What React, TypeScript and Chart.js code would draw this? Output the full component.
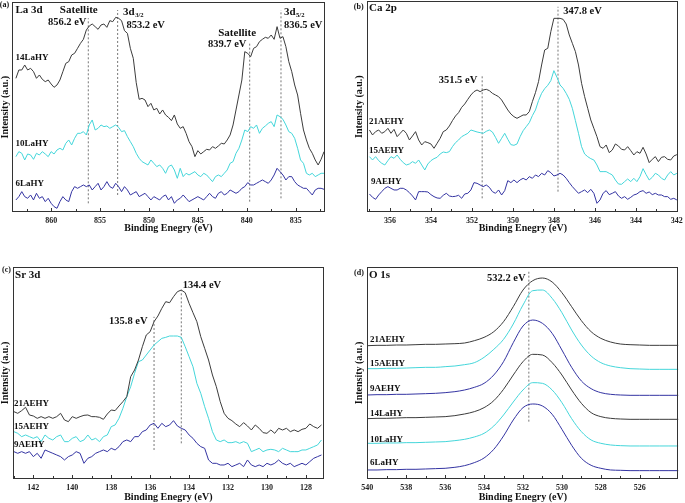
import React, { useEffect, useRef } from 'react';
import { Chart, registerables } from 'chart.js';

Chart.register(...registerables);

const SERIF = "'Liberation Serif', 'Times New Roman', Times, serif";
const C_BLACK = '#3c3c3c';
const C_CYAN = '#44d6da';
const C_NAVY = '#3434a2';
const C_PEAK = '#777777';

// ---------- Panel (a) La 3d ----------
const E_A = [
  863.6, 863.3, 863.0, 862.7, 862.4, 862.1, 861.8, 861.5, 861.2, 860.9,
  860.6, 860.3, 860.0, 859.7, 859.4, 859.1, 858.8, 858.5, 858.2, 857.9,
  857.6, 857.3, 857.0, 856.7, 856.4, 856.1, 855.8, 855.5, 855.2, 854.9,
  854.6, 854.3, 854.0, 853.7, 853.4, 853.1, 852.8, 852.5, 852.2, 851.9,
  851.6, 851.3, 851.0, 850.7, 850.4, 850.1, 849.8, 849.5, 849.2, 848.9,
  848.6, 848.3, 848.0, 847.7, 847.4, 847.1, 846.8, 846.5, 846.2, 845.9,
  845.6, 845.3, 845.0, 844.7, 844.4, 844.1, 843.8, 843.5, 843.2, 842.9,
  842.6, 842.3, 842.0, 841.7, 841.4, 841.1, 840.8, 840.5, 840.2, 839.9,
  839.6, 839.3, 839.0, 838.7, 838.4, 838.1, 837.8, 837.5, 837.2, 836.9,
  836.6, 836.3, 836.0, 835.7, 835.4, 835.1, 834.8, 834.5, 834.2, 833.9,
  833.6, 833.3, 833.0, 832.7, 832.4, 832.1,
];
const LA14 = [
  402, 427, 427, 442, 427, 432, 422, 402, 412, 399,
  392, 397, 385, 375, 382, 397, 422, 447, 452, 472,
  477, 492, 507, 519, 547, 559, 565, 557, 549, 562,
  565, 555, 575, 572, 585, 582, 575, 545, 537, 492,
  462, 389, 339, 342, 337, 317, 327, 307, 312, 295,
  307, 292, 285, 275, 292, 265, 252, 257, 237, 212,
  197, 167, 185, 175, 182, 189, 187, 197, 192, 199,
  207, 205, 217, 232, 262, 307, 352, 397, 482, 477,
  467, 492, 497, 512, 519, 525, 522, 532, 519, 557,
  522, 527, 497, 452, 422, 382, 352, 297, 247, 217,
  192, 177, 157, 142, 159, 182,
];
const LA10 = [
  167, 182, 177, 157, 175, 172, 159, 177, 172, 182,
  175, 167, 182, 175, 187, 192, 187, 207, 217, 202,
  222, 237, 237, 242, 232, 262, 277, 247, 252, 262,
  257, 259, 252, 257, 262, 255, 242, 245, 227, 212,
  197, 177, 162, 152, 147, 142, 157, 147, 137, 142,
  132, 117, 137, 142, 127, 102, 132, 107, 117, 112,
  117, 122, 112, 107, 117, 112, 102, 92, 107, 112,
  107, 117, 127, 147, 152, 177, 192, 217, 247, 242,
  257, 252, 262, 237, 252, 259, 267, 272, 257, 292,
  287, 279, 262, 242, 237, 222, 192, 157, 147, 117,
  112, 117, 107, 112, 117, 117,
];
const LA6 = [
  37, 47, 62, 47, 42, 52, 37, 57, 42, 47,
  32, 42, 27, 17, 12, 32, 47, 37, 32, 62,
  77, 72, 77, 82, 77, 82, 67, 77, 87, 67,
  77, 92, 77, 72, 87, 77, 62, 77, 67, 52,
  57, 62, 47, 52, 57, 47, 37, 47, 42, 37,
  47, 52, 37, 47, 27, 37, 42, 52, 42, 32,
  37, 42, 47, 42, 37, 47, 57, 47, 42, 57,
  62, 52, 57, 67, 62, 57, 62, 72, 77, 89,
  82, 82, 87, 92, 97, 92, 87, 97, 112, 132,
  122, 112, 97, 107, 107, 92, 82, 77, 72, 72,
  62, 52, 67, 72, 72, 69,
];
const TICKS_A = [860, 855, 850, 845, 840, 835];
const MINOR_A = [862.5, 857.5, 852.5, 847.5, 842.5, 837.5, 832.5];
const PEAKS_A = [856.2, 853.2, 839.7, 836.5];
const PEAK_SPAN_A = [[27, 582], [52, 607], [32, 512], [42, 607]];

// ---------- Panel (b) Ca 2p ----------
const E_B = [
  357.0, 356.85, 356.7, 356.55, 356.4, 356.25, 356.1, 355.95, 355.8, 355.65,
  355.5, 355.35, 355.2, 355.05, 354.9, 354.75, 354.6, 354.45, 354.3, 354.15,
  354.0, 353.85, 353.7, 353.55, 353.4, 353.25, 353.1, 352.95, 352.8, 352.65,
  352.5, 352.35, 352.2, 352.05, 351.9, 351.75, 351.6, 351.45, 351.3, 351.15,
  351.0, 350.85, 350.7, 350.55, 350.4, 350.25, 350.1, 349.95, 349.8, 349.65,
  349.5, 349.35, 349.2, 349.05, 348.9, 348.75, 348.6, 348.45, 348.3, 348.15,
  348.0, 347.85, 347.7, 347.55, 347.4, 347.25, 347.1, 346.95, 346.8, 346.65,
  346.5, 346.35, 346.2, 346.05, 345.9, 345.75, 345.6, 345.45, 345.3, 345.15,
  345.0, 344.85, 344.7, 344.55, 344.4, 344.25, 344.1, 343.95, 343.8, 343.65,
  343.5, 343.35, 343.2, 343.05, 342.9, 342.75, 342.6, 342.45, 342.3, 342.15,
  342.0,
];
const CA21 = [
  247, 232, 242, 247, 237, 242, 252, 237, 249, 227,
  237, 247, 237, 217, 229, 242, 217, 202, 212, 209,
  205, 192, 207, 222, 242, 247, 259, 275, 289, 299,
  315, 325, 339, 352, 362, 367, 362, 367, 369, 365,
  357, 352, 347, 337, 322, 307, 295, 287, 282, 287,
  292, 292, 302, 332, 359, 392, 442, 487, 492, 542,
  582, 582, 582, 579, 565, 532, 507, 482, 442, 387,
  347, 312, 277, 252, 227, 197, 192, 202, 179, 187,
  205, 199, 189, 187, 197, 185, 172, 182, 177, 195,
  175, 149, 159, 167, 152, 165, 167, 159, 157, 169,
  173,
];
const CA15 = [
  167, 157, 167, 155, 147, 142, 155, 167, 162, 172,
  159, 149, 142, 145, 152, 147, 157, 142, 127, 145,
  155, 161, 165, 175, 181, 179, 182, 197, 209, 217,
  227, 232, 237, 247, 244, 241, 239, 237, 243, 247,
  241, 225, 207, 222, 237, 219, 203, 201, 205, 227,
  245, 257, 269, 290, 307, 335, 357, 371, 381, 395,
  425, 405, 382, 372, 357, 339, 312, 275, 237, 197,
  175, 167, 161, 157, 142, 122, 122, 122, 117, 112,
  97, 85, 84, 92, 100, 92, 102, 92, 107, 131,
  113, 97, 105, 117, 112, 102, 97, 112, 122, 112,
  117,
];
const CA9 = [
  55, 45, 39, 52, 62, 72, 77, 72, 67, 67,
  72, 72, 67, 59, 49, 37, 62, 62, 62, 61,
  53, 47, 43, 42, 51, 57, 49, 47, 48, 51,
  42, 55, 57, 67, 89, 87, 82, 77, 82, 75,
  62, 57, 67, 52, 65, 95, 89, 97, 89, 97,
  102, 97, 107, 102, 112, 107, 117, 112, 125, 119,
  109, 112, 117, 112, 102, 89, 77, 67, 57, 62,
  67, 59, 69, 57, 27, 37, 57, 65, 53, 57,
  62, 49, 42, 47, 39, 45, 52, 55, 62, 65,
  57, 61, 53, 57, 52, 52, 47, 47, 39, 42,
  37,
];
const TICKS_B = [356, 354, 352, 350, 348, 346, 344, 342];
const MINOR_B = [357, 355, 353, 351, 349, 347, 345, 343];
const PEAKS_B = [351.5, 347.8];
const PEAK_SPAN_B = [[42, 412], [62, 617]];

// ---------- Panel (c) Sr 3d ----------
const E_C = [
  143.0, 142.8, 142.6, 142.4, 142.2, 142.0, 141.8, 141.6, 141.4, 141.2,
  141.0, 140.8, 140.6, 140.4, 140.2, 140.0, 139.8, 139.6, 139.4, 139.2,
  139.0, 138.8, 138.6, 138.4, 138.2, 138.0, 137.8, 137.6, 137.4, 137.2,
  137.0, 136.8, 136.6, 136.4, 136.2, 136.0, 135.8, 135.6, 135.4, 135.2,
  135.0, 134.8, 134.6, 134.4, 134.2, 134.0, 133.8, 133.6, 133.4, 133.2,
  133.0, 132.8, 132.6, 132.4, 132.2, 132.0, 131.8, 131.6, 131.4, 131.2,
  131.0, 130.8, 130.6, 130.4, 130.2, 130.0, 129.8, 129.6, 129.4, 129.2,
  129.0, 128.8, 128.6, 128.4, 128.2, 128.0, 127.8, 127.6, 127.4, 127.2,
];
const SR21 = [
  203, 198, 206, 216, 193, 190, 183, 188, 183, 188,
  183, 188, 198, 178, 173, 188, 183, 188, 192, 193,
  188, 188, 186, 180, 196, 208, 206, 220, 233, 248,
  308, 328, 358, 398, 433, 443, 473, 490, 513, 533,
  530, 548, 563, 568, 560, 528, 500, 473, 428, 393,
  358, 313, 278, 233, 198, 183, 176, 166, 158, 170,
  160, 148, 163, 153, 140, 138, 148, 138, 153, 148,
  153, 143, 148, 143, 150, 153, 166, 158, 153, 163,
];
const SR15 = [
  143, 138, 128, 133, 128, 123, 128, 113, 133, 123,
  118, 128, 133, 113, 113, 123, 128, 113, 118, 133,
  118, 123, 113, 128, 133, 158, 163, 183, 213, 248,
  278, 318, 353, 358, 373, 388, 403, 413, 423, 426,
  430, 430, 430, 426, 398, 368, 338, 288, 258, 218,
  183, 143, 118, 113, 118, 110, 110, 113, 108, 113,
  108, 83, 88, 93, 83, 88, 90, 88, 83, 93,
  88, 83, 83, 83, 88, 88, 93, 98, 103, 118,
];
const SR9 = [
  83, 78, 83, 78, 83, 68, 78, 63, 88, 83,
  78, 73, 68, 58, 68, 73, 83, 78, 48, 63,
  68, 78, 83, 88, 83, 93, 88, 98, 113, 118,
  113, 128, 128, 143, 148, 163, 168, 153, 168, 158,
  163, 176, 160, 153, 148, 133, 123, 108, 98, 93,
  58, 48, 48, 43, 43, 48, 38, 43, 48, 38,
  58, 43, 38, 43, 38, 48, 43, 48, 58, 48,
  43, 48, 38, 43, 48, 43, 53, 63, 68, 73,
];
const TICKS_C = [142, 140, 138, 136, 134, 132, 130, 128];
const MINOR_C = [143, 141, 139, 137, 135, 133, 131, 129, 127];
const PEAKS_C = [135.8, 134.4];
const PEAK_SPAN_C = [[88, 488], [108, 568]];

// ---------- Panel (d) O 1s ----------
const E_D = [
  540, 539.5, 539, 538.5, 538, 537.5, 537, 536.5, 536, 535.5,
  535, 534.5, 534, 533.5, 533, 532.5, 532, 531.5, 531, 530.5,
  530, 529.5, 529, 528.5, 528, 527.5, 527, 526.5, 526, 525.5,
  525, 524.5, 524,
];
const O_21AE = [401, 402, 402, 403, 403, 404, 405, 405, 406, 407, 409, 416, 426, 443, 473, 518, 568, 596, 604, 592, 560, 518, 476, 443, 423, 412, 406, 404, 403, 402, 402, 402, 402];
const O_15AE = [332, 332, 333, 333, 334, 335, 336, 336, 338, 340, 344, 350, 366, 390, 420, 466, 523, 566, 568, 543, 500, 448, 403, 370, 350, 340, 335, 332, 331, 330, 330, 330, 330];
const O_9AE = [253, 254, 254, 255, 255, 256, 257, 258, 260, 263, 268, 276, 288, 313, 353, 410, 460, 478, 468, 438, 388, 336, 295, 272, 260, 255, 253, 252, 252, 252, 252, 252, 252];
const O_14LA = [182, 183, 183, 184, 185, 185, 186, 187, 188, 191, 196, 203, 215, 236, 270, 313, 353, 375, 373, 350, 313, 268, 228, 200, 188, 183, 181, 180, 180, 180, 180, 180, 180];
const O_10LA = [108, 108, 109, 109, 110, 110, 111, 112, 113, 116, 120, 127, 138, 160, 193, 232, 268, 290, 288, 268, 230, 182, 143, 118, 108, 103, 101, 100, 100, 100, 100, 100, 100];
const O_6LA = [28, 28, 29, 29, 30, 30, 31, 32, 33, 36, 41, 50, 64, 90, 130, 178, 215, 226, 220, 195, 150, 102, 63, 42, 33, 28, 27, 26, 26, 26, 26, 26, 26];
const TICKS_D = [540, 538, 536, 534, 532, 530, 528, 526];
const MINOR_D = [539, 537, 535, 533, 531, 529, 527, 525];
const PEAKS_D = [531.7];
const PEAK_SPAN_D = [[173, 623]];

// ---------- Text annotations (anchored in data units) ----------
type Ann = { text: string; x: number; y: number; align?: CanvasTextAlign; size?: number; sub?: string };

const ANN_A: Ann[] = [
  { text: '(a)', x: 865.25, y: 622, align: 'left', size: 8 },
  { text: 'La 3d', x: 863.65, y: 607, align: 'left', size: 11 },
  { text: 'Satellite', x: 857.17, y: 607, align: 'center', size: 11 },
  { text: '856.2 eV', x: 858.36, y: 569, align: 'center', size: 10.5 },
  { text: '3d', x: 852.64, y: 602, align: 'left', size: 11, sub: '3/2' },
  { text: '853.2 eV', x: 852.3, y: 562, align: 'left', size: 10.5 },
  { text: 'Satellite', x: 840.98, y: 539, align: 'center', size: 11 },
  { text: '839.7 eV', x: 842.0, y: 504, align: 'center', size: 10.5 },
  { text: '3d', x: 836.2, y: 602, align: 'left', size: 11, sub: '5/2' },
  { text: '836.5 eV', x: 836.2, y: 562, align: 'left', size: 10.5 },
  { text: '14LaHY', x: 863.65, y: 465, align: 'left', size: 9 },
  { text: '10LaHY', x: 863.65, y: 205, align: 'left', size: 9 },
  { text: '6LaHY', x: 863.65, y: 87, align: 'left', size: 9 },
];
const ANN_B: Ann[] = [
  { text: '(b)', x: 357.76, y: 616, align: 'left', size: 8 },
  { text: 'Ca 2p', x: 357.02, y: 612, align: 'left', size: 11 },
  { text: '347.8 eV', x: 347.54, y: 602, align: 'left', size: 10.5 },
  { text: '351.5 eV', x: 352.68, y: 397, align: 'center', size: 10.5 },
  { text: '21AEHY', x: 357.02, y: 272, align: 'left', size: 9 },
  { text: '15AEHY', x: 357.02, y: 185, align: 'left', size: 9 },
  { text: '9AEHY', x: 356.93, y: 92, align: 'left', size: 9 },
];
const ANN_C: Ann[] = [
  { text: '(c)', x: 143.61, y: 628, align: 'left', size: 8 },
  { text: 'Sr 3d', x: 142.94, y: 613, align: 'left', size: 11 },
  { text: '134.4 eV', x: 134.33, y: 583, align: 'left', size: 10.5 },
  { text: '135.8 eV', x: 137.12, y: 473, align: 'center', size: 10.5 },
  { text: '21AEHY', x: 142.99, y: 228, align: 'left', size: 9 },
  { text: '15AEHY', x: 142.99, y: 158, align: 'left', size: 9 },
  { text: '9AEHY', x: 142.99, y: 103, align: 'left', size: 9 },
];
const ANN_D: Ann[] = [
  { text: '(d)', x: 540.68, y: 619, align: 'left', size: 8 },
  { text: 'O 1s', x: 539.91, y: 613, align: 'left', size: 11 },
  { text: '532.2 eV', x: 532.86, y: 603, align: 'center', size: 10.5 },
  { text: '21AEHY', x: 539.86, y: 420, align: 'left', size: 9 },
  { text: '15AEHY', x: 539.86, y: 348, align: 'left', size: 9 },
  { text: '9AEHY', x: 539.86, y: 273, align: 'left', size: 9 },
  { text: '14LaHY', x: 539.86, y: 196, align: 'left', size: 9 },
  { text: '10LaHY', x: 539.86, y: 120, align: 'left', size: 9 },
  { text: '6LaHY', x: 539.86, y: 50, align: 'left', size: 9 },
];

type Series = { name: string; e: number[]; v: number[]; color: string };

interface Panel {
  id: string;
  cLeft: number; cTop: number; cW: number; cH: number;
  plotLeft: number; plotTop: number; plotRight: number; plotBottom: number;
  xMin: number; xMax: number; yMax: number;
  ticks: number[]; minor: number[];
  peaks: number[]; peakSpan: number[][];
  series: Series[];
  smooth: boolean;
  anns: Ann[];
  yTitlePad: number; xTitlePad: number;
}

const PANELS: Panel[] = [
  {
    id: 'a', cLeft: 0, cTop: 0, cW: 342, cH: 250,
    plotLeft: 12, plotTop: 2, plotRight: 325, plotBottom: 212.3,
    xMin: 832, xMax: 864, yMax: 631,
    ticks: TICKS_A, minor: MINOR_A, peaks: PEAKS_A, peakSpan: PEAK_SPAN_A,
    series: [
      { name: '14LaHY', e: E_A, v: LA14, color: C_BLACK },
      { name: '10LaHY', e: E_A, v: LA10, color: C_CYAN },
      { name: '6LaHY', e: E_A, v: LA6, color: C_NAVY },
    ],
    smooth: false, anns: ANN_A, yTitlePad: 0, xTitlePad: 17,
  },
  {
    id: 'b', cLeft: 342, cTop: 0, cW: 343, cH: 250,
    plotLeft: 25.4, plotTop: 1, plotRight: 336.3, plotBottom: 212.3,
    xMin: 341.93, xMax: 357.1, yMax: 634,
    ticks: TICKS_B, minor: MINOR_B, peaks: PEAKS_B, peakSpan: PEAK_SPAN_B,
    series: [
      { name: '21AEHY', e: E_B, v: CA21, color: C_BLACK },
      { name: '15AEHY', e: E_B, v: CA15, color: C_CYAN },
      { name: '9AEHY', e: E_B, v: CA9, color: C_NAVY },
    ],
    smooth: false, anns: ANN_B, yTitlePad: 12.5, xTitlePad: 17,
  },
  {
    id: 'c', cLeft: 0, cTop: 250, cW: 342, cH: 253,
    plotLeft: 12.7, plotTop: 16.7, plotRight: 324, plotBottom: 229.3,
    xMin: 127.07, xMax: 143.06, yMax: 638,
    ticks: TICKS_C, minor: MINOR_C, peaks: PEAKS_C, peakSpan: PEAK_SPAN_C,
    series: [
      { name: '21AEHY', e: E_C, v: SR21, color: C_BLACK },
      { name: '15AEHY', e: E_C, v: SR15, color: C_CYAN },
      { name: '9AEHY', e: E_C, v: SR9, color: C_NAVY },
    ],
    smooth: false, anns: ANN_C, yTitlePad: 0.5, xTitlePad: 0.7,
  },
  {
    id: 'd', cLeft: 342, cTop: 250, cW: 343, cH: 253,
    plotLeft: 25.3, plotTop: 16.7, plotRight: 336.3, plotBottom: 229.3,
    xMin: 524.02, xMax: 540, yMax: 638,
    ticks: TICKS_D, minor: MINOR_D, peaks: PEAKS_D, peakSpan: PEAK_SPAN_D,
    series: [
      { name: '21AEHY', e: E_D, v: O_21AE, color: C_BLACK },
      { name: '15AEHY', e: E_D, v: O_15AE, color: C_CYAN },
      { name: '9AEHY', e: E_D, v: O_9AE, color: C_NAVY },
      { name: '14LaHY', e: E_D, v: O_14LA, color: C_BLACK },
      { name: '10LaHY', e: E_D, v: O_10LA, color: C_CYAN },
      { name: '6LaHY', e: E_D, v: O_6LA, color: C_NAVY },
    ],
    smooth: true, anns: ANN_D, yTitlePad: 12.5, xTitlePad: 0.7,
  },
];

function makeDecor(p: Panel) {
  return {
    id: 'decor_' + p.id,
    afterDatasetsDraw(chart: any) {
      const { ctx, chartArea: a, scales } = chart;
      const xs = scales.x;
      const ys = scales.y;
      ctx.save();
      ctx.strokeStyle = '#333';
      ctx.lineWidth = 1;
      const l = Math.round(a.left) + 0.5;
      const t = Math.round(a.top) + 0.5;
      const r = Math.round(a.right) - 0.5;
      const b = Math.round(a.bottom) - 0.5;
      ctx.strokeRect(l, t, r - l, b - t);
      ctx.beginPath();
      for (const v of p.ticks) {
        const px = Math.round(xs.getPixelForValue(v)) + 0.5;
        ctx.moveTo(px, b);
        ctx.lineTo(px, b - 3.5);
      }
      for (const v of p.minor) {
        if (v < p.xMin || v > p.xMax) continue;
        const px = Math.round(xs.getPixelForValue(v)) + 0.5;
        ctx.moveTo(px, b);
        ctx.lineTo(px, b - 2.5);
      }
      ctx.stroke();
      ctx.fillStyle = '#111';
      ctx.textBaseline = 'middle';
      for (const an of p.anns) {
        const size = an.size || 10;
        ctx.font = `bold ${size}px ${SERIF}`;
        ctx.textAlign = an.align || 'left';
        const px = xs.getPixelForValue(an.x);
        const py = ys.getPixelForValue(an.y);
        ctx.fillText(an.text, px, py);
        if (an.sub) {
          const w = ctx.measureText(an.text).width;
          ctx.font = `bold ${size * 0.6}px ${SERIF}`;
          ctx.textAlign = 'left';
          ctx.fillText(an.sub, px + w + 0.5, py + 4);
        }
      }
      ctx.restore();
    },
  };
}

function PanelChart({ p }: { p: Panel }) {
  const ref = useRef<HTMLCanvasElement | null>(null);
  useEffect(() => {
    if (!ref.current) return;
    const datasets: any[] = [];
    p.series.forEach((s) => {
      datasets.push({
        label: s.name,
        data: s.e.map((x, i) => ({ x, y: s.v[i] })),
        borderColor: s.color,
        backgroundColor: s.color,
        borderWidth: 1,
        pointRadius: 0,
        fill: false,
        tension: p.smooth ? 0.4 : 0,
        cubicInterpolationMode: p.smooth ? 'monotone' : 'default',
      });
    });
    p.peaks.forEach((x, i) => {
      datasets.push({
        label: 'peak ' + x,
        data: [
          { x, y: p.peakSpan[i][0] },
          { x, y: p.peakSpan[i][1] },
        ],
        borderColor: C_PEAK,
        borderWidth: 1,
        borderDash: [2, 2],
        pointRadius: 0,
        fill: false,
      });
    });
    const xAxisH = p.cH - p.plotBottom;
    const font = (size: number) => ({ family: SERIF, size, weight: 'bold' as const, lineHeight: 1 });
    const chart = new Chart(ref.current, {
      type: 'line',
      data: { datasets },
      options: {
        responsive: false,
        animation: false,
        devicePixelRatio: 1,
        layout: { padding: { left: 0, top: p.plotTop, right: p.cW - p.plotRight, bottom: 0 } },
        plugins: { legend: { display: false }, tooltip: { enabled: false } },
        elements: { point: { radius: 0 } },
        scales: {
          x: {
            type: 'linear',
            reverse: true,
            min: p.xMin,
            max: p.xMax,
            grid: { display: false, drawTicks: false },
            border: { display: false },
            ticks: { font: { family: SERIF, size: 8, weight: 'bold' }, color: '#222', padding: 3.5, maxRotation: 0, autoSkip: false },
            afterBuildTicks: (s: any) => {
              s.ticks = p.ticks.map((v) => ({ value: v }));
            },
            afterFit: (s: any) => {
              s.height = xAxisH;
              s.paddingLeft = 0;
              s.paddingRight = 0;
            },
            title: { display: true, text: 'Binding Enegry (eV)', font: font(10), color: '#111', padding: { top: 0, bottom: p.xTitlePad } },
          },
          y: {
            type: 'linear',
            min: 0,
            max: p.yMax,
            grid: { display: false, drawTicks: false },
            border: { display: false },
            ticks: { display: false },
            afterFit: (s: any) => {
              s.width = p.plotLeft;
              s.paddingTop = 0;
              s.paddingBottom = 0;
            },
            title: { display: true, text: 'Intensity (a.u.)', font: font(10), color: '#111', padding: { top: p.yTitlePad, bottom: 0 } },
          },
        },
      } as any,
      plugins: [makeDecor(p)],
    });
    return () => chart.destroy();
  }, [p]);
  return (
    <canvas
      ref={ref}
      width={p.cW}
      height={p.cH}
      style={{ position: 'absolute', left: p.cLeft, top: p.cTop, width: p.cW, height: p.cH }}
    />
  );
}

export default function App() {
  return (
    <div style={{ position: 'fixed', left: 0, top: 0, width: 685, height: 503, background: '#ffffff', overflow: 'hidden' }}>
      {PANELS.map((p) => (
        <PanelChart key={p.id} p={p} />
      ))}
    </div>
  );
}
